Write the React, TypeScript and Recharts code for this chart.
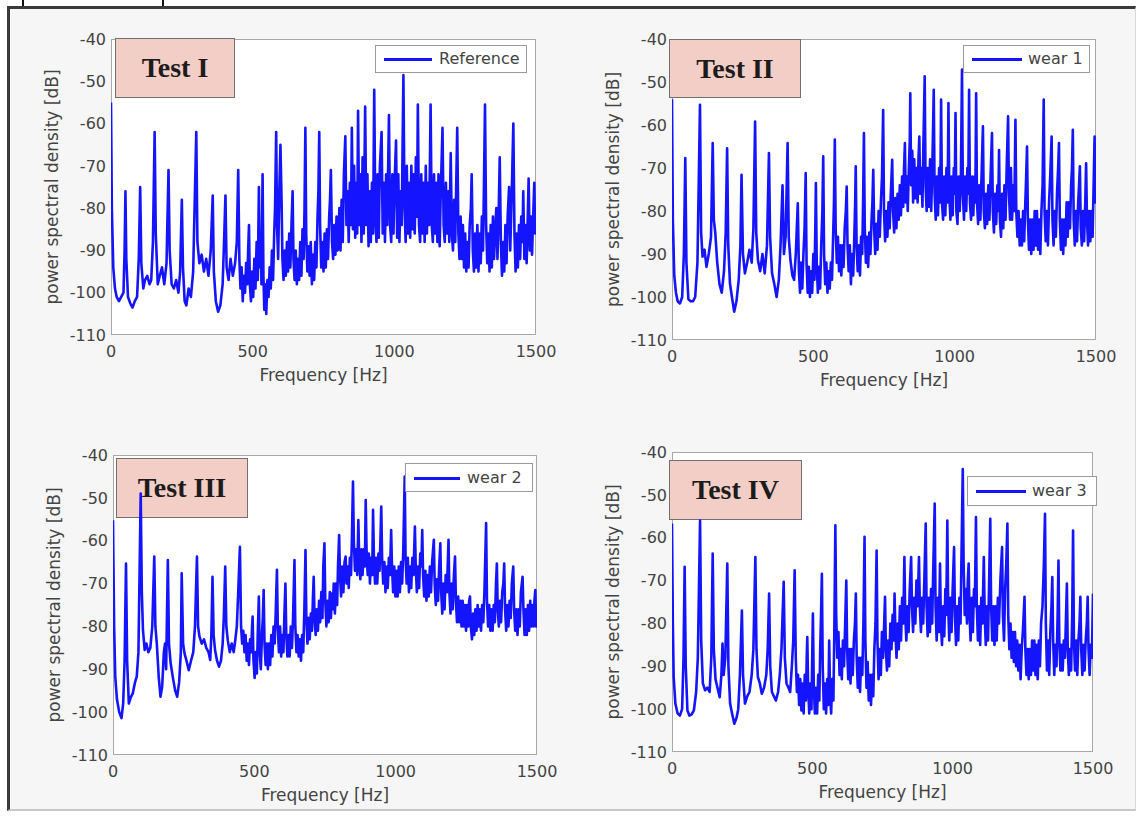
import React from 'react';
import { LineChart, Line, XAxis, YAxis } from 'recharts';

type Pt = [number, number];

const xTicks = [0, 500, 1000, 1500];
const yTicks = [-110, -100, -90, -80, -70, -60, -50, -40];
const panelTitles = ['Test I', 'Test II', 'Test III', 'Test IV'];
const legendNames = ['Reference', 'wear 1', 'wear 2', 'wear 3'];
const xLabel = 'Frequency [Hz]';
const yLabel = 'power spectral density [dB]';

const testI: Pt[] = [
  [0,-55],[3,-80],[8,-94],[14,-99],[20,-101],[28,-102],[36,-101],[44,-100],[48,-90],[51,-76],[54,-92],[60,-101],[68,-102.5],[76,-103.5],[84,-102],[92,-101],[98,-92],[103,-75],[107,-93],[114,-99],[120,-97],[128,-96],[136,-98],[142,-97],[148,-88],[154,-62],[158,-86],[165,-98],[172,-96],[180,-94],[188,-98],[196,-93],[203,-71],[207,-90],[214,-98],[222,-99],[230,-97],[238,-100],[244,-95],[250,-78],[254,-94],[260,-102],[266,-103],[274,-99],[282,-101],[290,-95],[301,-62],[305,-88],[312,-93],[320,-91],[328,-95],[336,-92],[344,-96],[352,-90],[359,-77],[363,-95],[370,-102],[378,-104.5],[386,-103],[394,-98],[398,-90],[404,-77],[408,-94],[415,-97],[422,-92],[430,-96],[438,-93],[444,-88],[449,-71],
  [453,-92],[457,-99],[461,-94],[465,-102],[469,-96],[473,-100],[477,-93],[481,-98],[484,-90],[487,-84],[490,-98],[494,-102],[498,-95],[502,-101],[506,-92],[510,-99],[514,-88],[518,-97],[522,-75],[525,-94],[528,-88],[531,-98],[535,-72],[538,-96],[541,-104],[544,-98],[548,-105],[552,-97],[556,-101],[560,-94],[564,-99],[568,-90],[572,-97],[576,-86],[579,-80],[583,-62],[586,-84],[590,-92],[594,-76],[598,-65],[602,-78],[605,-92],[609,-97],[613,-90],[617,-96],[621,-88],[625,-95],[629,-86],[633,-94],[637,-84],[641,-76],[644,-92],[648,-97],[652,-90],[656,-98],[660,-92],[664,-97],[668,-88],[672,-96],[676,-85],[680,-92],[683,-80],[686,-61],[689,-86],[693,-95],[697,-89],[701,-96],[705,-88],[709,-98],[713,-91],[717,-97],[721,-88],[725,-94],[729,-82],[732,-76],[735,-62],[738,-84],[742,-94],[746,-88],[750,-95],[754,-86],[758,-94],[762,-85],[766,-92],[770,-82],[773,-78],[776,-71],[780,-88],[784,-92],[788,-84],[792,-91],[796,-82],[800,-90],
  [802,-89],[806,-80],[810,-90],[814,-78],[818,-88],[822,-72],[827,-63],[831,-84],[835,-76],[839,-88],[843,-74],[847,-84],[850,-61],[854,-85],[858,-70],[862,-87],[866,-74],[869,-86],[872,-57],[876,-84],[880,-72],[884,-88],[888,-68],[892,-86],[897,-56],[901,-84],[905,-72],[909,-89],[913,-76],[917,-88],[921,-74],[925,-86],[929,-52],[933,-82],[937,-88],[941,-72],[945,-87],[949,-70],[955,-62],[959,-86],[963,-74],[967,-88],[971,-72],[975,-84],[981,-58],[985,-84],[989,-88],[993,-72],[997,-86],[1001,-74],[1006,-64],[1010,-87],[1014,-72],[1018,-88],[1022,-76],[1026,-84],[1029,-66],[1032,-48.5],[1036,-80],[1040,-88],[1044,-70],[1048,-86],[1052,-74],[1056,-87],[1060,-70],[1064,-85],[1068,-72],[1072,-86],[1076,-68],[1080,-82],[1083,-55.5],[1087,-84],[1091,-88],[1095,-72],[1099,-86],[1103,-74],[1107,-88],[1111,-70],[1115,-86],[1119,-74],[1123,-84],[1128,-55.5],[1132,-84],[1136,-88],[1140,-72],[1144,-86],[1148,-74],[1152,-88],[1156,-72],[1160,-89],[1164,-76],[1170,-61],[1174,-84],[1178,-88],[1182,-74],[1186,-86],[1190,-76],[1194,-88],[1199,-67],[1203,-86],[1207,-90],[1211,-78],[1215,-88],[1218,-76],[1222,-61],[1226,-86],[1230,-92],[1234,-82],[1238,-92],[1242,-84],[1246,-94],
  [1250,-86],[1254,-95],[1258,-88],[1262,-94],[1266,-84],[1270,-80],[1273,-72],[1277,-90],[1281,-95],[1285,-86],[1289,-94],[1293,-84],[1297,-95],[1301,-86],[1305,-93],[1309,-82],[1313,-90],[1316,-76],[1320,-55.5],[1324,-84],[1328,-93],[1332,-86],[1336,-95],[1340,-84],[1344,-94],[1348,-82],[1352,-92],[1356,-85],[1360,-80],[1364,-92],[1368,-82],[1372,-68],[1376,-88],[1380,-96],[1384,-88],[1388,-95],[1392,-84],[1396,-93],[1400,-82],[1405,-75],[1409,-90],[1413,-80],[1416,-72],[1420,-60],[1424,-86],[1428,-95],[1432,-86],[1436,-94],[1440,-84],[1444,-92],[1448,-82],[1452,-88],[1455,-76],[1459,-92],[1463,-84],[1467,-93],[1471,-82],[1474,-73],[1478,-90],[1482,-82],[1486,-91],[1490,-82],[1494,-74],[1497,-86],[1500,-80]
];

const wear1: Pt[] = [
  [0,-54],[3,-82],[8,-95],[14,-99],[20,-101],[28,-101.5],[36,-100],[42,-90],[47,-67.7],[51,-92],[58,-100.5],[66,-101],[74,-101],[82,-100],[90,-92],[99,-55.3],[103,-85],[108,-90.6],[115,-89],[122,-93],[130,-90],[138,-86],[144,-64.2],[148,-82],[153,-85],[160,-92],[168,-97],[176,-99],[184,-94],[190,-85],[195,-65.4],[199,-88],[205,-96.8],[212,-100],[220,-103.4],[228,-101],[236,-96],[242,-88],[246,-71.6],[251,-90],[258,-94.5],[266,-92],[274,-89],[282,-92],[288,-84],[294,-59.2],[298,-85],[304,-91.4],[312,-94],[320,-90],[328,-94.5],[336,-88],[343,-66.5],[347,-86],[354,-94.5],[362,-97],[370,-100],[378,-96],[384,-88],[391,-74],[396,-90],[402,-86],[409,-64.2],[413,-86],[419,-91.4],[426,-95],[432,-96],[438,-90],[445,-78.2],
  [449,-94],[453,-99],[457,-92],[461,-98],[465,-90],[469,-84],[473,-71.2],[476,-92],[480,-99],[484,-93],[488,-100],[492,-94],[496,-99],[500,-90],[504,-96],[507,-84],[509,-73.5],[512,-92],[516,-99],[520,-93],[524,-98],[528,-88],[532,-80],[535,-67.3],[538,-90],[542,-97],[546,-92],[550,-99],[554,-94],[558,-98],[562,-92],[566,-96],[570,-86],[573,-78],[576,-63.4],[579,-84],[583,-92],[587,-86],[591,-94],[595,-88],[599,-95],[603,-88],[607,-93],[611,-84],[615,-80],[618,-74.3],[621,-88],[625,-94],[629,-88],[633,-97],[637,-90],[641,-95],[645,-86],[648,-78],[650,-69.6],[653,-88],[657,-94],[661,-88],[665,-95],[669,-86],[673,-90],[676,-78],[679,-61.9],[682,-84],[686,-92],[690,-86],[694,-93],[698,-85],[702,-90],[706,-82],[709,-78],[712,-70.4],[715,-84],[719,-90],[723,-83],[727,-89],[731,-80],[735,-86],[739,-78],[743,-72],[747,-56.5],[750,-80],[754,-87],[758,-80],[762,-86],[766,-78],[770,-84],[774,-76],[779,-68.1],[782,-80],[786,-85],[790,-77],[794,-84],[798,-76],[802,-82],[806,-74],[810,-81],[814,-72],[818,-79],
  [821,-70],[824,-64.2],[827,-78],[831,-72],[834,-80],[838,-70],[841,-64],[843,-52.6],[846,-74],[850,-66],[853,-78],[857,-68],[861,-77],[865,-70],[869,-78],[872,-68],[875,-62.7],[878,-76],[882,-70],[886,-79],[889,-66],[894,-48.7],[897,-74],[901,-80],[905,-70],[909,-79],[913,-68],[917,-80],[921,-70],[926,-51.8],[929,-76],[933,-82],[937,-72],[941,-81],[945,-70],[949,-78],[952,-54.1],[955,-78],[959,-82],[963,-72],[967,-81],[971,-70],[975,-78],[978,-54.9],[981,-76],[985,-82],[989,-72],[993,-81],[997,-70],[1000,-76],[1003,-57.2],[1006,-80],[1010,-83],[1014,-72],[1018,-80],[1022,-72],[1026,-47.1],[1029,-76],[1033,-82],[1037,-72],[1041,-80],[1045,-70],[1048,-76],[1051,-51.8],[1054,-78],[1058,-82],[1062,-72],[1066,-81],[1070,-72],[1073,-78],[1076,-52.6],[1079,-78],[1083,-83],[1087,-74],[1091,-82],[1095,-72],[1100,-60.3],[1103,-80],[1107,-84],[1111,-76],[1115,-83],[1119,-74],[1123,-82],[1127,-72],[1132,-61.9],[1135,-80],[1139,-85],[1143,-76],[1147,-83],[1151,-74],[1154,-80],[1157,-65.8],[1160,-82],[1164,-86],[1168,-76],[1172,-84],[1176,-74],[1180,-82],[1184,-70],[1189,-58],[1192,-76],[1196,-82],[1199,-70],[1203,-82],[1207,-74],[1211,-80],[1215,-58.8],[1218,-80],[1222,-86],[1226,-80],[1230,-88],
  [1234,-82],[1238,-88],[1242,-80],[1246,-87],[1250,-78],[1253,-72],[1256,-65],[1259,-82],[1263,-89],[1267,-82],[1271,-90],[1275,-82],[1279,-89],[1283,-80],[1287,-88],[1291,-80],[1295,-89],[1299,-82],[1303,-90],[1307,-80],[1311,-74],[1315,-54.1],[1318,-80],[1322,-87],[1326,-80],[1330,-88],[1334,-78],[1338,-72],[1343,-62.7],[1346,-82],[1350,-88],[1354,-80],[1358,-86],[1362,-76],[1366,-70],[1369,-64.2],[1372,-82],[1376,-89],[1380,-82],[1384,-90],[1388,-82],[1392,-88],[1396,-78],[1400,-86],[1404,-78],[1408,-84],[1412,-74],[1415,-70],[1418,-61.1],[1421,-82],[1425,-88],[1429,-80],[1433,-87],[1437,-78],[1440,-74],[1443,-69.6],[1446,-84],[1450,-88],[1454,-80],[1458,-87],[1462,-78],[1465,-68.9],[1468,-82],[1472,-88],[1476,-80],[1480,-87],[1484,-80],[1488,-86],[1491,-76],[1495,-62.7],[1498,-78],[1500,-72]
];

const wear2: Pt[] = [
  [0,-55.2],[4,-80],[8,-91.7],[14,-97],[22,-100],[30,-101.4],[36,-98],[41,-88],[46,-65.3],[50,-88],[56,-98],[63,-96.5],[70,-95.6],[78,-93],[84,-91.7],[90,-86],[98,-49],[102,-72],[106,-80.8],[112,-85.5],[118,-84],[125,-86],[132,-85],[139,-80],[146,-63.7],[150,-80],[155,-84],[162,-92],[168,-96.4],[174,-94],[180,-86],[184,-84],[188,-90],[194,-64.5],[198,-84],[204,-88.6],[212,-92],[220,-95],[227,-96.4],[234,-93],[240,-86],[243,-67.6],[248,-84],[253,-86.3],[260,-88],[268,-90.2],[276,-88],[284,-86],[290,-80],[297,-63.7],[301,-80],[306,-82.4],[314,-84],[322,-83],[330,-85],[338,-86],[344,-87.8],[348,-82],[352,-68.4],[356,-82],[361,-85.5],[368,-88],[375,-89.4],[382,-88],[388,-84],[392,-78],[397,-66],[401,-80],[406,-83.2],[413,-86],[420,-84],[427,-86],[433,-83],[438,-80],[443,-72],
  [449,-61.4],[453,-80],[457,-84],[461,-81],[465,-86],[469,-82],[473,-88],[477,-84],[481,-89],[485,-83],[489,-86],[492,-80],[494,-77.7],[497,-88],[501,-92],[505,-86],[509,-91],[512,-82],[516,-73],[519,-86],[523,-90],[527,-82],[530,-78],[533,-71.5],[536,-84],[540,-89],[544,-84],[548,-90],[552,-84],[556,-89],[560,-82],[564,-87],[568,-80],[572,-84],[576,-76],[580,-66.8],[583,-80],[587,-86],[591,-80],[595,-87],[599,-82],[603,-86],[606,-78],[610,-70],[613,-82],[617,-87],[621,-82],[625,-87],[629,-80],[633,-85],[637,-78],[642,-64.5],[645,-80],[649,-86],[653,-82],[657,-87],[661,-83],[665,-88],[669,-82],[673,-86],[677,-76],[681,-62.2],[684,-78],[688,-84],[692,-78],[696,-83],[700,-77],[704,-81],[707,-74],[710,-68.4],[713,-78],[717,-82],[721,-76],[725,-81],[729,-74],[733,-79],[737,-72],[741,-78],[744,-66],[748,-60.6],[751,-74],[755,-80],[759,-74],[763,-79],[767,-72],[771,-78],[774,-72.3],[777,-76],[781,-70],[785,-77],[789,-70],[793,-75],[796,-66],[800,-58.7],[803,-68],[807,-73],[811,-66],[815,-72],[819,-65],[823,-63.7],[826,-70],[830,-66],[834,-71],[838,-64],[842,-68],[845,-60],[849,-46.2],
  [852,-60],[856,-67],[860,-62],[864,-68],[868,-55.2],[871,-64],[875,-69],[879,-62],[883,-68],[887,-62],[891,-66],[894,-50.5],[897,-62],[901,-68],[905,-63],[909,-70],[913,-64],[917,-68],[920,-52.8],[923,-64],[927,-70],[931,-64],[935,-70],[939,-63],[943,-67],[946,-60],[949,-52],[952,-64],[956,-70],[960,-65],[964,-72],[968,-66],[972,-71],[976,-64],[980,-68],[984,-57.5],[987,-66],[991,-72],[995,-66],[999,-73],[1003,-67],[1007,-73],[1011,-66],[1015,-72],[1019,-65],[1023,-70],[1027,-62],[1032,-45],[1035,-64],[1039,-70],[1043,-64],[1047,-72],[1051,-66],[1055,-71],[1059,-64],[1063,-68],[1068,-56.7],[1071,-66],[1075,-72],[1079,-66],[1083,-71],[1087,-63],[1091,-66],[1094,-57.5],[1097,-68],[1101,-73],[1105,-67],[1109,-74],[1113,-68],[1117,-73],[1121,-66],[1125,-72],[1129,-65],[1135,-59.8],[1138,-70],[1142,-75],[1146,-69],[1150,-74],[1154,-66],[1158,-60.6],[1161,-72],[1165,-77],[1169,-70],[1173,-76],[1177,-68],[1181,-72],[1187,-59.8],[1190,-72],[1194,-77],[1198,-70],[1202,-76],[1206,-68],[1210,-63.7],[1213,-74],[1217,-79],[1221,-73],[1225,-79],[1229,-74],[1233,-80],
  [1237,-74],[1241,-80],[1245,-75],[1249,-81],[1253,-75],[1257,-80],[1260,-74],[1263,-73],[1266,-80],[1270,-83],[1274,-77],[1278,-82],[1282,-76],[1286,-81],[1290,-75],[1294,-80],[1298,-76],[1302,-81],[1306,-75],[1310,-79],[1314,-72],[1320,-55.9],[1323,-74],[1327,-80],[1331,-75],[1335,-81],[1339,-76],[1343,-81],[1347,-75],[1351,-79],[1355,-70],[1358,-65.3],[1361,-76],[1365,-80],[1369,-74],[1373,-79],[1377,-72],[1381,-70],[1384,-65.3],[1387,-76],[1391,-81],[1395,-75],[1399,-80],[1403,-74],[1407,-78],[1411,-70],[1416,-66],[1419,-76],[1423,-81],[1427,-76],[1431,-82],[1435,-76],[1439,-80],[1443,-72],[1449,-68.4],[1452,-76],[1456,-82],[1460,-76],[1464,-82],[1468,-75],[1472,-81],[1476,-74],[1480,-80],[1484,-75],[1488,-80],[1491,-74],[1494,-71.5],[1497,-80],[1500,-76]
];

const wear3: Pt[] = [
  [0,-56.7],[3,-80],[6,-92.5],[12,-98.7],[20,-101],[28,-101.5],[36,-100],[41,-88],[45,-66.8],[49,-90],[55,-100.3],[62,-101.5],[70,-101.2],[78,-100.3],[86,-96],[92,-88],[100,-56],[104,-84],[110,-94],[118,-95.6],[126,-95],[134,-96],[140,-88],[145,-63.7],[149,-86],[155,-93],[162,-95],[170,-97.2],[176,-92],[180,-84.7],[184,-92],[190,-88],[197,-66],[201,-90],[207,-98.7],[214,-101],[222,-103.4],[230,-102],[236,-100],[242,-92],[249,-77],[253,-92],[260,-98.7],[268,-97],[276,-96],[284,-92],[290,-86],[297,-64.5],[301,-86],[306,-92.5],[313,-94],[320,-96.4],[328,-95],[336,-92],[341,-86],[346,-73],[350,-90],[356,-96],[363,-97],[370,-98],[378,-96],[384,-92],[390,-86],[398,-70.3],[402,-88],[408,-94],[415,-95],[421,-96],[427,-90],[432,-84],
  [437,-67.6],[441,-88],[445,-96],[449,-92],[453,-99],[457,-93],[461,-100.3],[465,-94],[469,-101],[473,-92],[477,-98],[480,-88],[482,-83.2],[485,-95],[489,-101],[493,-94],[497,-100],[500,-86],[502,-77.7],[505,-94],[509,-101],[513,-95],[517,-101],[521,-92],[525,-98],[528,-86],[531,-78],[534,-68.4],[537,-90],[541,-100],[545,-94],[549,-101],[553,-93],[557,-99],[560,-84],[563,-96],[567,-101],[571,-93],[575,-98],[578,-84],[582,-57.1],[585,-78],[589,-88],[593,-82],[597,-92],[601,-86],[605,-93],[609,-84],[613,-90],[617,-80],[621,-70],[624,-86],[628,-93],[632,-86],[636,-94],[640,-86],[644,-92],[648,-84],[652,-80],[655,-73],[658,-88],[662,-95],[666,-88],[670,-96],[674,-88],[678,-92],[682,-80],[686,-59.8],[689,-84],[693,-95],[697,-89],[701,-98],[705,-92],[709,-99],[713,-92],[717,-97],[721,-86],[725,-80],[729,-63],[732,-84],[736,-93],[740,-86],[744,-92],[748,-82],[752,-88],[756,-80],[759,-73.8],[762,-86],[766,-91],[770,-84],[774,-90],[778,-80],[782,-86],[786,-78],[790,-84],[793,-73],[796,-82],[800,-88],[804,-80],[808,-86],[812,-76],[816,-84],[820,-74],[824,-80],
  [828,-64.5],[831,-78],[835,-84],[839,-76],[843,-82],[847,-72],[852,-64.5],[855,-76],[859,-82],[863,-74],[867,-80],[871,-70],[875,-76],[880,-64.5],[883,-76],[887,-82],[891,-74],[895,-80],[899,-70],[904,-56.7],[907,-76],[911,-83],[915,-74],[919,-82],[923,-72],[927,-80],[930,-70],[936,-52],[939,-76],[943,-84],[947,-74],[951,-82],[955,-66],[958,-80],[962,-85],[966,-76],[970,-83],[974,-72],[977,-78],[981,-56],[984,-76],[988,-84],[992,-74],[996,-82],[1000,-72],[1005,-62.2],[1008,-78],[1012,-85],[1016,-76],[1020,-84],[1024,-74],[1028,-80],[1031,-66],[1036,-44],[1039,-66],[1043,-78],[1047,-72],[1051,-80],[1054,-70],[1057,-66],[1060,-78],[1064,-84],[1068,-74],[1072,-82],[1076,-72],[1079,-76],[1083,-55.2],[1086,-76],[1090,-84],[1094,-76],[1098,-85],[1102,-74],[1106,-80],[1111,-64.5],[1114,-78],[1118,-85],[1122,-76],[1126,-84],[1130,-70],[1134,-55.6],[1137,-76],[1141,-84],[1145,-76],[1149,-85],[1153,-76],[1157,-84],[1161,-74],[1165,-80],[1170,-70],[1176,-62.2],[1179,-78],[1183,-84],[1187,-72],[1191,-66],[1195,-56.7],[1198,-78],[1202,-86],[1206,-80],[1210,-88],[1214,-82],[1218,-89],[1222,-82],[1226,-90],[1230,-84],[1234,-91],[1238,-85],[1242,-93],[1246,-86],
  [1250,-82],[1253,-78],[1256,-73.8],[1259,-86],[1263,-92],[1267,-86],[1271,-93],[1275,-86],[1279,-92],[1283,-84],[1287,-91],[1291,-84],[1295,-92],[1299,-85],[1303,-93],[1307,-84],[1311,-90],[1315,-80],[1320,-76],[1325,-66],[1329,-54.4],[1332,-80],[1336,-91],[1340,-84],[1344,-92],[1348,-82],[1352,-76],[1355,-69.2],[1358,-84],[1362,-92],[1366,-85],[1370,-90],[1374,-78],[1377,-65.3],[1380,-84],[1384,-91],[1388,-85],[1392,-91],[1396,-84],[1400,-88],[1404,-78],[1407,-70.7],[1410,-86],[1414,-92],[1418,-86],[1422,-91],[1426,-78],[1429,-58.3],[1432,-84],[1436,-91],[1440,-84],[1444,-92],[1448,-84],[1452,-80],[1455,-73.8],[1458,-86],[1462,-92],[1466,-85],[1470,-91],[1474,-84],[1478,-80],[1481,-73.8],[1484,-86],[1488,-92],[1492,-85],[1496,-88],[1500,-73]
];

const spectra: Pt[][] = [testI, wear1, wear2, wear3];

const layouts = [
  { plot: { l: 111, t: 39, r: 536, b: 335 }, title: { l: 115, t: 38, w: 120, h: 60 }, legend: { l: 375, t: 45, w: 152, h: 28, line: 48, text: 63 } },
  { plot: { l: 672, t: 39, r: 1096, b: 340 }, title: { l: 669, t: 39, w: 132, h: 59 }, legend: { l: 963, t: 45, w: 127, h: 28, line: 50, text: 64 } },
  { plot: { l: 113, t: 455, r: 537, b: 755 }, title: { l: 116, t: 458, w: 132, h: 60 }, legend: { l: 405, t: 463, w: 128, h: 29, line: 46, text: 61 } },
  { plot: { l: 672, t: 452, r: 1093, b: 752 }, title: { l: 669, t: 460, w: 133, h: 60 }, legend: { l: 967, t: 476, w: 130, h: 30, line: 50, text: 64 } },
];

const FONT = '"DejaVu Sans", Verdana, sans-serif';
const LINE_COLOR = '#1414ff';
const TEXT_COLOR = '#444444';
const Y_AXIS_W = 118;
const X_AXIS_H = 80;
const RIGHT_PAD = 30;

function Panel({ idx }: { idx: number }) {
  const { plot, title, legend } = layouts[idx];
  const data = spectra[idx].map(([f, v]) => ({ f, v }));
  const chartW = plot.r - plot.l + Y_AXIS_W + RIGHT_PAD;
  const chartH = plot.b - plot.t + 10 + X_AXIS_H;
  return (
    <>
      <div style={{ position: 'absolute', left: plot.l, top: plot.t, width: plot.r - plot.l, height: plot.b - plot.t, background: '#ffffff', border: '1px solid #a8a8a8', boxSizing: 'border-box' }} />
      <div style={{ position: 'absolute', left: title.l, top: title.t, width: title.w, height: title.h, background: '#f3cec6', border: '1.5px solid #707070', boxSizing: 'border-box', display: 'flex', alignItems: 'center', justifyContent: 'center', fontFamily: '"Liberation Serif", "Times New Roman", serif', fontWeight: 700, fontSize: 28, color: '#1c1c1c' }}>
        {panelTitles[idx]}
      </div>
      <div style={{ position: 'absolute', left: plot.l - Y_AXIS_W, top: plot.t - 10 }}>
        <LineChart width={chartW} height={chartH} data={data} margin={{ top: 10, right: RIGHT_PAD, bottom: 0, left: 0 }}>
          <XAxis dataKey="f" type="number" domain={[0, 1500]} ticks={xTicks} allowDataOverflow height={X_AXIS_H} axisLine={false} tickLine={false} tickSize={6} tickMargin={5} interval={0}
            tick={{ fill: TEXT_COLOR, fontSize: 16, fontFamily: FONT }}
            label={{ value: xLabel, position: 'center', style: { fill: TEXT_COLOR, fontSize: 17, fontFamily: FONT } }} />
          <YAxis type="number" domain={[-110, -40]} ticks={yTicks} allowDataOverflow width={Y_AXIS_W} axisLine={false} tickLine={false} tickSize={3} tickMargin={2} interval={0}
            tick={{ fill: TEXT_COLOR, fontSize: 16, fontFamily: FONT }}
            label={{ value: yLabel, angle: -90, position: 'center', style: { fill: TEXT_COLOR, fontSize: 17, fontFamily: FONT } }} />
          <Line type="linear" dataKey="v" stroke={LINE_COLOR} strokeWidth={2.6} strokeLinejoin="round" dot={false} activeDot={false} isAnimationActive={false} />
        </LineChart>
      </div>
      <div style={{ position: 'absolute', left: legend.l, top: legend.t, width: legend.w, height: legend.h, background: '#ffffff', border: '1px solid #9a9a9a', boxSizing: 'border-box' }}>
        <div style={{ position: 'absolute', left: 8, top: legend.h / 2 - 2, width: legend.line, height: 3, background: LINE_COLOR }} />
        <div style={{ position: 'absolute', left: legend.text, top: 0, height: legend.h - 2, lineHeight: `${legend.h - 2}px`, fontFamily: FONT, fontSize: 16, color: TEXT_COLOR, whiteSpace: 'nowrap' }}>
          {legendNames[idx]}
        </div>
      </div>
    </>
  );
}

export default function App() {
  return (
    <div style={{ position: 'absolute', left: 0, top: 0, width: 1136, height: 823, background: '#ffffff', overflow: 'hidden' }}>
      <div style={{ position: 'absolute', left: 22, top: 0, width: 2, height: 7, background: '#111' }} />
      <div style={{ position: 'absolute', left: 162, top: 0, width: 2, height: 7, background: '#111' }} />
      <div style={{ position: 'absolute', left: 7, top: 6, width: 1129, height: 805, background: '#f6f6f6', borderTop: '3px solid #3a3a3a', borderLeft: '3px solid #3a3a3a', borderBottom: '2px solid #c8c8c8', borderRight: '1px solid #d8d8d8', boxSizing: 'border-box' }} />
      {[0, 1, 2, 3].map((i) => <Panel key={i} idx={i} />)}
    </div>
  );
}
